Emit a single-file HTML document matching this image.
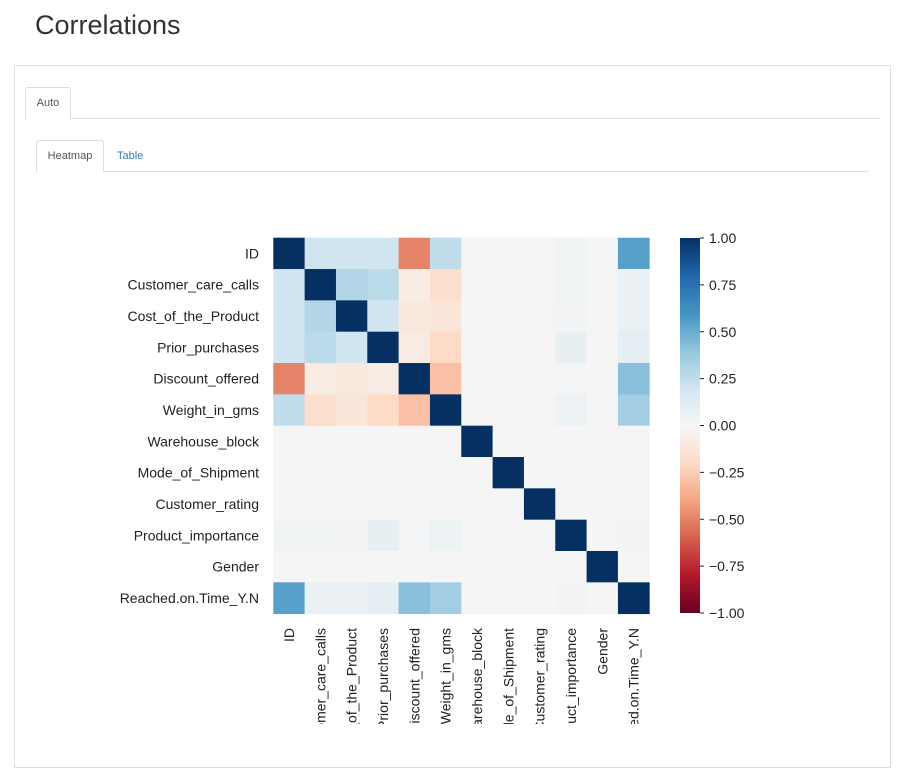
<!DOCTYPE html>
<html><head><meta charset="utf-8"><style>
body{margin:0;width:905px;height:780px;background:#fff;font-family:"Liberation Sans",Arial,sans-serif;position:relative;overflow:hidden}
.abs{position:absolute}
</style></head><body>
<div class="abs" style="left:35px;top:10px;font-size:27px;color:#333">Correlations</div>
<div class="abs" style="left:14px;top:65px;width:875px;height:701px;border:1px solid #ddd"></div>
<div class="abs" style="left:25px;top:118px;width:855px;border-top:1px solid #ddd"></div>
<div class="abs" style="left:25px;top:87px;width:44px;height:31px;border:1px solid #ddd;border-bottom:1px solid #fff;border-radius:3px 3px 0 0;background:#fff;font-size:11px;color:#555;line-height:31px;text-align:center">Auto</div>
<div class="abs" style="left:36px;top:171px;width:833px;border-top:1px solid #ddd"></div>
<div class="abs" style="left:36px;top:140px;width:66px;height:31px;border:1px solid #ddd;border-bottom:1px solid #fff;border-radius:3px 3px 0 0;background:#fff;font-size:11px;color:#555;line-height:31px;text-align:center">Heatmap</div>
<div class="abs" style="left:117px;top:141px;height:31px;font-size:11px;color:#337ab7;line-height:31px">Table</div>
<svg class="abs" style="left:0;top:0" width="905" height="780" id="chart">
<defs><clipPath id="xclip"><rect x="260" y="620" width="400" height="104"/></clipPath>
<linearGradient id="cbgrad" x1="0" y1="1" x2="0" y2="0">
<stop offset="0" stop-color="#67001f"/><stop offset="0.1" stop-color="#b2182b"/><stop offset="0.2" stop-color="#d6604d"/><stop offset="0.3" stop-color="#f4a582"/><stop offset="0.4" stop-color="#fddbc7"/><stop offset="0.5" stop-color="#f7f7f7"/><stop offset="0.6" stop-color="#d1e5f0"/><stop offset="0.7" stop-color="#92c5de"/><stop offset="0.8" stop-color="#4393c3"/><stop offset="0.9" stop-color="#2166ac"/><stop offset="1" stop-color="#053061"/>
</linearGradient></defs>
<g id="cells"></g><g id="ylabels"></g><g id="xlabels" clip-path="url(#xclip)"></g>
<rect x="680" y="238" width="20" height="375" fill="url(#cbgrad)"/>
<g id="cbticks"></g>
</svg>
<script>
const labels=["ID","Customer_care_calls","Cost_of_the_Product","Prior_purchases","Discount_offered","Weight_in_gms","Warehouse_block","Mode_of_Shipment","Customer_rating","Product_importance","Gender","Reached.on.Time_Y.N"];
const corr=[
[1,.2,.2,.2,-.5,.25,0,0,0,.03,0,.55],
[.2,1,.3,.27,-.07,-.18,0,.01,0,.03,0,.06],
[.2,.3,1,.2,-.1,-.12,0,0,.01,.02,0,.06],
[.2,.27,.2,1,-.08,-.2,0,.01,0,.07,0,.09],
[-.5,-.07,-.1,-.08,1,-.3,0,.01,0,.01,0,.42],
[.25,-.18,-.12,-.2,-.3,1,0,.01,0,.05,0,.35],
[0,0,0,0,0,0,1,0,0,0,0,0],
[0,.01,0,.01,.01,.01,0,1,0,0,.01,0],
[0,0,.01,0,0,0,0,0,1,0,0,0],
[.03,.03,.02,.07,.01,.05,0,0,0,1,0,.02],
[0,0,0,0,0,0,0,.01,0,0,1,0],
[.55,.06,.06,.09,.42,.35,0,0,0,.02,0,1]];
const cbTicks=[1,0.75,0.5,0.25,0,-0.25,-0.5,-0.75,-1];
const x0=273.3,y0=237.7,cell=31.33,cbTop=238,cbH=375;
const stops=["#67001f","#b2182b","#d6604d","#f4a582","#fddbc7","#f5f5f5","#d1e5f0","#92c5de","#4393c3","#2166ac","#053061"].map(h=>[1,3,5].map(i=>parseInt(h.substr(i,2),16)));
function color(v){const t=(v+1)/2*10;const i=Math.min(9,Math.floor(t)),f=t-i;const a=stops[i],b=stops[i+1];return `rgb(${a.map((c,k)=>Math.round(c+(b[k]-c)*f)).join(',')})`;}
const NS="http://www.w3.org/2000/svg";
const cg=document.getElementById('cells'),yl=document.getElementById('ylabels'),xl=document.getElementById('xlabels'),cb=document.getElementById('cbticks');
corr.forEach((row,r)=>row.forEach((v,c)=>{const e=document.createElementNS(NS,'rect');
e.setAttribute('x',x0+c*cell);e.setAttribute('y',y0+r*cell);e.setAttribute('width',cell+0.4);e.setAttribute('height',cell+0.4);e.setAttribute('fill',color(v));


cg.appendChild(e);}));
labels.forEach((l,i)=>{let t=document.createElementNS(NS,'text');t.textContent=l;t.setAttribute('x',259);t.setAttribute('y',y0+(i+.5)*cell+5);t.setAttribute('text-anchor','end');t.setAttribute('font-size','14');t.setAttribute('fill','#222');


yl.appendChild(t);
t=document.createElementNS(NS,'text');t.textContent=l;const cx=x0+(i+.5)*cell+5;t.setAttribute('transform',`translate(${cx},628) rotate(-90)`);t.setAttribute('text-anchor','end');t.setAttribute('font-size','14');t.setAttribute('fill','#222');


xl.appendChild(t);});
cbTicks.forEach(v=>{const y=cbTop+(1-v)/2*cbH;const l=document.createElementNS(NS,'line');l.setAttribute('x1',700);l.setAttribute('x2',704);l.setAttribute('y1',y);l.setAttribute('y2',y);l.setAttribute('stroke','#222');cb.appendChild(l);
const t=document.createElementNS(NS,'text');t.textContent=(v<0?'\u2212':'')+Math.abs(v).toFixed(2);t.setAttribute('x',709);t.setAttribute('y',y+5);t.setAttribute('font-size','14');t.setAttribute('fill','#222');


cb.appendChild(t);});
</script>
</body></html>
